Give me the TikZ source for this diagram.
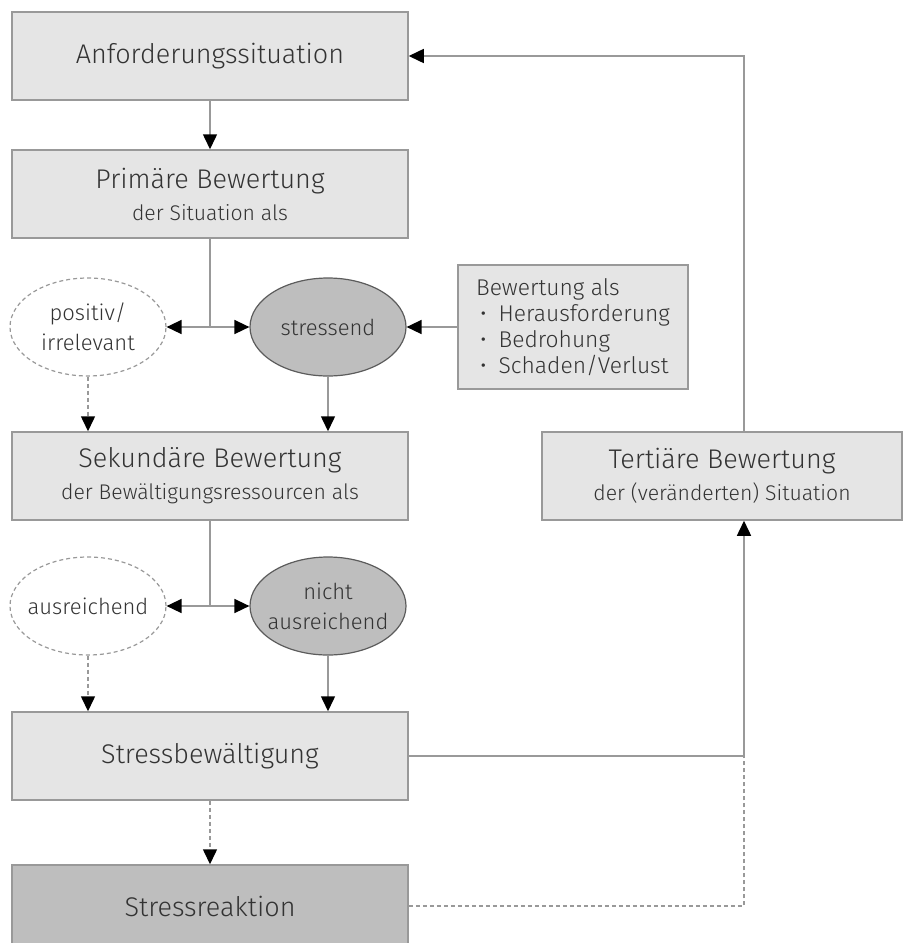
\documentclass[tikz,border=0pt]{standalone}
\usepackage{fontspec}
\setmainfont{Fira Sans Light}
\usetikzlibrary{shapes.geometric,arrows.meta}

\definecolor{boxgray}{HTML}{E5E5E5}
\definecolor{darkgray}{HTML}{BEBEBE}
\definecolor{linegray}{HTML}{999999}
\definecolor{txt}{HTML}{333333}

\newcommand{\haupt}{\fontsize{13.5}{16}\selectfont}
\newcommand{\mittel}{\fontsize{11}{15}\selectfont}
\newcommand{\unter}{\fontsize{10.6}{15}\selectfont}

\begin{document}
\begin{tikzpicture}[x=0.5pt,y=-0.5pt]
        \tikzstyle{every node}=[text=txt, font=\mittel]
        \tikzstyle{box}=[draw=linegray, fill=boxgray, line width=0.75pt, minimum width=198pt, minimum height=44pt, align=center, font=\haupt]
        \tikzstyle{oval}=[ellipse, draw=txt!80, line width=0.6pt, minimum width=78pt, minimum height=49pt, inner sep=-4pt, align=center]
        \tikzstyle{leer}=[oval, draw=linegray, dash pattern=on 2pt off 1.5pt]
        \tikzstyle{voll}=[oval, fill=darkgray]
        \tikzstyle{line}=[draw=linegray, line width=0.75pt]
        \tikzstyle{arr}=[line, -{Triangle[color=black, length=7.5pt, width=7pt]}]
        \tikzstyle{dasharr}=[arr, dash pattern=on 2pt off 1.5pt]
        \tikzstyle{dotline}=[line, dash pattern=on 2pt off 1.5pt]

        \useasboundingbox (0,0) rectangle (904,943);

        \node[box] (anf) at (210,56) {Anforderungssituation};
        \node[box] (prim) at (210,194) {Primäre Bewertung\\\unter der Situation als};
        \node[leer] (pos) at (88,327) {positiv/\\irrelevant};
        \node[voll] (stress) at (328,327) {stressend};
        \node[box, minimum width=115pt, minimum height=62pt, font=\fontsize{11.4}{13}\selectfont, align=left] (bew) at (573,327)
            {Bewertung als\\
             \hspace{2pt}\textbullet\hspace{6pt}Herausforderung\\
             \hspace{2pt}\textbullet\hspace{6pt}Bedrohung\\
             \hspace{2pt}\textbullet\hspace{6pt}Schaden/Verlust};
        \node[box] (sek) at (210,476) {Sekundäre Bewertung\\\unter der Bewältigungsressourcen als};
        \node[box, minimum width=180pt] (tert) at (722,476) {Tertiäre Bewertung\\\unter der (veränderten) Situation};
        \node[leer] (aus) at (88,606) {ausreichend};
        \node[voll] (nicht) at (328,606) {nicht\\ausreichend};
        \node[box] (sb) at (210,756) {Stressbewältigung};
        \node[box, fill=darkgray, minimum height=41pt] (sr) at (210,906) {Stressreaktion};
        \coordinate (knick) at (744,756);

        \draw[arr] (anf) -- (prim);
        \draw[line] (prim.south) -- (prim.south |- pos.east) coordinate (j1);
        \draw[arr] (j1) -- (pos.east);
        \draw[arr] (j1) -- (stress.west);
        \draw[arr] (bew.west) -- (stress.east);
        \draw[dasharr] (pos.south) -- (pos.south |- sek.north);
        \draw[arr] (stress.south) -- (stress.south |- sek.north);

        \draw[line] (sek.south) -- (sek.south |- aus.east) coordinate (j2);
        \draw[arr] (j2) -- (aus.east);
        \draw[arr] (j2) -- (nicht.west);
        \draw[dasharr] (aus.south) -- (aus.south |- sb.north);
        \draw[arr] (nicht.south) -- (nicht.south |- sb.north);

        \draw[dasharr] (sb) -- (sr);
        \draw[arr] (sb.east) -- (knick) -- (knick |- tert.south);
        \draw[dotline] (sr.east) -| (knick);
        \draw[arr] (knick |- tert.north) |- (anf.east);
\end{tikzpicture}
\end{document}
